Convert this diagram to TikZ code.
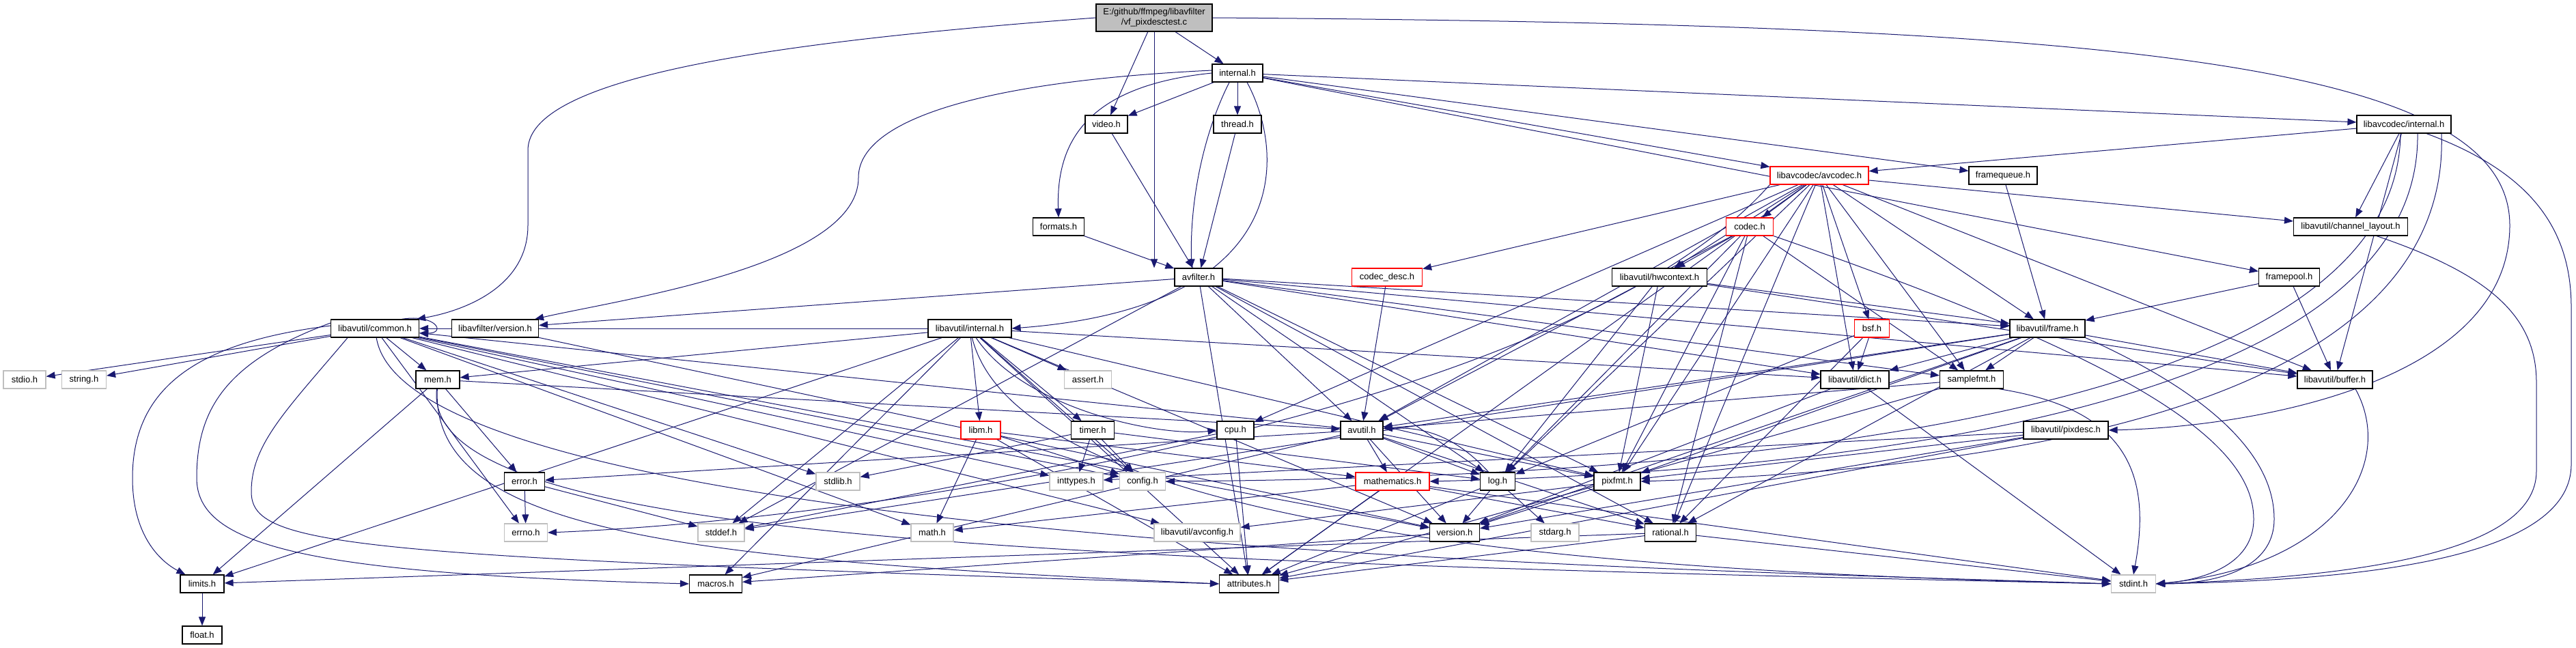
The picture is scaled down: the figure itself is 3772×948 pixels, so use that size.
\documentclass[tikz,border=0pt]{standalone}
\usepackage{fontspec}
\setmainfont{Liberation Sans}
\usetikzlibrary{arrows.meta,calc}
\definecolor{edgec}{RGB}{25,25,112}
\definecolor{grayb}{RGB}{191,191,191}
\definecolor{redb}{RGB}{255,0,0}
\pgfdeclarelayer{bg}
\pgfsetlayers{bg,main}
\newcommand\edg[2]{\draw[edge] (#1) -- (#2);}
\begin{document}
\begin{tikzpicture}[x=1pt,y=-1pt,
  nd/.style={draw=black, line width=1.2pt, fill=white, minimum height=26pt, inner sep=0pt, font=\fontsize{13}{15}\selectfont, text=black},
  sys/.style={nd, draw=grayb},
  trunc/.style={nd, draw=redb},
  edge/.style={draw=edgec, line width=1pt, -{Triangle[length=13pt,width=10pt]}},
]
\useasboundingbox (0,0) rectangle (3772,948);
% nodes
\node[nd,minimum width=170pt,minimum height=40pt,fill=grayb,align=center] (root) at (1690,26) {E:/github/ffmpeg/libavfilter\\/vf\_pixdesctest.c};
\node[nd,minimum width=74pt] (internal) at (1812,107) {internal.h};
\node[nd,minimum width=62pt] (video) at (1620,182) {video.h};
\node[nd,minimum width=70pt] (thread) at (1812,182) {thread.h};
\node[nd,minimum width=138pt] (lavcint) at (3520,182) {libavcodec/internal.h};
\node[trunc,minimum width=144pt] (avcodec) at (2664,257) {libavcodec/avcodec.h};
\node[nd,minimum width=100pt] (framequeue) at (2933,257) {framequeue.h};
\node[nd,minimum width=75pt] (formats) at (1550,332) {formats.h};
\node[trunc,minimum width=69pt] (codec) at (2562,332) {codec.h};
\node[nd,minimum width=167pt] (chlayout) at (3442,332) {libavutil/channel\_layout.h};
\node[nd,minimum width=70pt] (avfilter) at (1755,406) {avfilter.h};
\node[trunc,minimum width=103pt] (codecdesc) at (2031,406) {codec\_desc.h};
\node[nd,minimum width=139pt] (hwctx) at (2430,406) {libavutil/hwcontext.h};
\node[nd,minimum width=89pt] (framepool) at (3352,406) {framepool.h};
\node[nd,minimum width=129pt] (common) at (549,481) {libavutil/common.h};
\node[nd,minimum width=127pt] (lavfver) at (725,481) {libavfilter/version.h};
\node[nd,minimum width=122pt] (lavuint) at (1420,481) {libavutil/internal.h};
\node[trunc,minimum width=51pt] (bsf) at (2741,481) {bsf.h};
\node[nd,minimum width=110pt] (frame) at (2998,481) {libavutil/frame.h};
\node[sys,minimum width=62pt] (stdio) at (36,556) {stdio.h};
\node[sys,minimum width=65pt] (string) at (123,556) {string.h};
\node[nd,minimum width=64pt] (mem) at (641,556) {mem.h};
\node[sys,minimum width=69pt] (assert) at (1593,556) {assert.h};
\node[nd,minimum width=100pt] (dict) at (2716,556) {libavutil/dict.h};
\node[nd,minimum width=93pt] (samplefmt) at (2887,556) {samplefmt.h};
\node[nd,minimum width=110pt] (buffer) at (3419,556) {libavutil/buffer.h};
\node[trunc,minimum width=58pt] (libm) at (1436,630) {libm.h};
\node[nd,minimum width=63pt] (timer) at (1600,630) {timer.h};
\node[nd,minimum width=54pt] (cpu) at (1809,630) {cpu.h};
\node[nd,minimum width=62pt] (avutil) at (1994,630) {avutil.h};
\node[nd,minimum width=124pt] (pixdesc) at (3025,630) {libavutil/pixdesc.h};
\node[nd,minimum width=59pt] (error) at (768,705) {error.h};
\node[sys,minimum width=64pt] (stdlib) at (1227,705) {stdlib.h};
\node[sys,minimum width=78pt] (inttypes) at (1576,705) {inttypes.h};
\node[sys,minimum width=67pt] (config) at (1673,705) {config.h};
\node[trunc,minimum width=108pt] (mathem) at (2039,705) {mathematics.h};
\node[nd,minimum width=51pt] (log) at (2193,705) {log.h};
\node[nd,minimum width=68pt] (pixfmt) at (2368,705) {pixfmt.h};
\node[sys,minimum width=63pt] (errno) at (770,780) {errno.h};
\node[sys,minimum width=68pt] (stddef) at (1056,780) {stddef.h};
\node[sys,minimum width=62pt] (math) at (1365,780) {math.h};
\node[sys,minimum width=126pt] (avconfig) at (1753,780) {libavutil/avconfig.h};
\node[nd,minimum width=73pt] (version) at (2130,780) {version.h};
\node[sys,minimum width=70pt] (stdarg) at (2277,780) {stdarg.h};
\node[nd,minimum width=75pt] (rational) at (2446,780) {rational.h};
\node[nd,minimum width=64pt] (limits) at (296,855) {limits.h};
\node[nd,minimum width=77pt] (macros) at (1048,855) {macros.h};
\node[nd,minimum width=87pt] (attributes) at (1829,855) {attributes.h};
\node[sys,minimum width=65pt] (stdint) at (3124,855) {stdint.h};
\node[nd,minimum width=58pt] (float) at (296,930) {float.h};
% edges
\begin{pgfonlayer}{bg}
\fill[white] (0,0) rectangle (3772,948);
% root
\draw[edge] (root.west) .. controls (1150,60) and (773,110) .. (773,220) -- (773,330) .. controls (773,420) and (680,455) .. ([xshift=-4pt]common.north east);
\edg{root}{video}
\draw[edge] ([xshift=0pt]root.south) -- ([xshift=-65pt]avfilter.north);
\edg{root}{internal}
\draw[edge] (root.east) .. controls (3100,35) and (3675,90) .. (3675,330) .. controls (3675,560) and (3300,625) .. (pixdesc.east);
% internal
\edg{internal}{video}
\edg{internal}{thread}
\draw[edge] (internal.west) .. controls (1600,125) and (1546,200) .. (formats.north);
\draw[edge] ([xshift=-12pt]internal.south) .. controls (1760,200) and (1742,300) .. ([xshift=-10pt]avfilter.north);
\draw[edge] ([xshift=14pt]internal.south) .. controls (1885,230) and (1890,450) .. (lavuint.east);
\draw[edge] ([yshift=4pt]internal.west) .. controls (1420,120) and (1257,180) .. (1257,260) .. controls (1257,390) and (900,440) .. ([xshift=-6pt]lavfver.north east);
\edg{internal}{avcodec}
\edg{internal}{framequeue}
\edg{internal}{lavcint}
\edg{internal}{framepool}
\edg{video}{avfilter}
\edg{thread}{avfilter}
\edg{formats}{avfilter}
% libavcodec/internal.h
\edg{lavcint}{avcodec}
\edg{lavcint}{chlayout}
\edg{lavcint}{buffer}
\draw[edge] ([xshift=20pt]lavcint.south) .. controls (3545,600) and (2700,690) .. (mathem.east);
\draw[edge] ([xshift=55pt]lavcint.south) .. controls (3590,620) and (2850,690) .. (pixfmt.east);
\draw[edge] ([xshift=-5pt]lavcint.south) .. controls (3510,640) and (2400,700) .. (config.east);
\draw[edge] ([xshift=33pt]lavcint.south) .. controls (3700,250) and (3765,330) .. (3765,450) -- (3765,680) .. controls (3765,820) and (3450,850) .. (stdint.east);
% avcodec
\draw[edge] (avcodec.south west) .. controls (2300,600) and (1300,760) .. (errno.east);
\edg{avcodec}{samplefmt}
\edg{avcodec}{attributes}
\edg{avcodec}{avutil}
\edg{avcodec}{buffer}
\edg{avcodec}{cpu}
\edg{avcodec}{chlayout}
\edg{avcodec}{dict}
\edg{avcodec}{frame}
\edg{avcodec}{hwctx}
\edg{avcodec}{log}
\edg{avcodec}{pixfmt}
\edg{avcodec}{rational}
\edg{avcodec}{bsf}
\edg{avcodec}{codec}
\edg{avcodec}{codecdesc}
\edg{framequeue}{frame}
% codec
\draw[edge] (codec.south east) .. controls (3100,520) and (3300,640) .. (3300,760) .. controls (3300,830) and (3220,850) .. (stdint.east);
\edg{codec}{avutil}
\edg{codec}{hwctx}
\edg{codec}{log}
\edg{codec}{pixfmt}
\edg{codec}{rational}
\edg{codec}{samplefmt}
\draw[edge] ([xshift=38pt]chlayout.south) .. controls (3640,400) and (3714,460) .. (3714,560) -- (3714,690) .. controls (3714,810) and (3450,845) .. (stdint.east);
% avfilter
\edg{avfilter}{stddef}
\edg{avfilter}{attributes}
\edg{avfilter}{avutil}
\edg{avfilter}{buffer}
\edg{avfilter}{dict}
\edg{avfilter}{frame}
\edg{avfilter}{log}
\edg{avfilter}{samplefmt}
\edg{avfilter}{pixfmt}
\edg{avfilter}{rational}
\edg{avfilter}{lavfver}
\edg{codecdesc}{avutil}
\edg{hwctx}{buffer}
\edg{hwctx}{frame}
\edg{hwctx}{log}
\edg{hwctx}{pixfmt}
\edg{framepool}{buffer}
\edg{framepool}{frame}
% common
\edg{common}{errno}
\edg{common}{inttypes}
\draw[edge] ([yshift=4pt]common.west) .. controls (300,500) and (194,560) .. (194,700) .. controls (194,790) and (240,825) .. ([xshift=8pt]limits.north west);
\edg{common}{math}
\draw[edge] (common) .. controls (600,800) and (2500,835) .. (stdint.west);
\edg{common}{stdio}
\edg{common}{stdlib}
\edg{common}{string}
\draw[edge] ([xshift=-40pt]common.south) .. controls (420,600) and (368,650) .. (368,720) .. controls (368,800) and (500,815) .. (attributes.west);
\draw[edge] ([yshift=8pt]common.west) .. controls (330,530) and (288,600) .. (288,700) .. controls (288,800) and (450,840) .. (macros.west);
\edg{common}{version}
\edg{common}{avconfig}
\edg{common}{config}
\draw[edge] ([xshift=-26pt]common.north east) .. controls +(50,-8) and +(40,0) .. ([yshift=-7pt]common.east);
\edg{common}{mem}
\edg{lavfver}{version}
% libavutil/internal.h
\edg{lavuint}{limits}
\draw[edge] (lavuint) .. controls (1500,800) and (2500,840) .. (stdint.west);
\edg{lavuint}{stddef}
\edg{lavuint}{assert}
\edg{lavuint}{config}
\edg{lavuint}{attributes}
\edg{lavuint}{timer}
\draw[edge] (lavuint) .. controls (1500,600) and (1700,640) .. (cpu.west);
\edg{lavuint}{dict}
\edg{lavuint}{macros}
\edg{lavuint}{mem}
\edg{lavuint}{pixfmt}
\edg{lavuint}{version}
\edg{lavuint}{libm}
\edg{lavuint}{common}
% mem
\edg{mem}{limits}
\draw[edge] (mem) .. controls (615,790) and (1500,820) .. (stdint.west);
\draw[edge] (mem) .. controls (630,780) and (1000,820) .. (attributes.west);
\edg{mem}{error}
\edg{mem}{avutil}
% timer, cpu
\edg{timer}{stdlib}
\edg{timer}{inttypes}
\edg{timer}{config}
\edg{timer}{log}
\edg{cpu}{stddef}
\edg{cpu}{attributes}
% avutil
\edg{avutil}{common}
\edg{avutil}{error}
\edg{avutil}{rational}
\edg{avutil}{version}
\edg{avutil}{macros}
\edg{avutil}{mathem}
\edg{avutil}{log}
\edg{avutil}{pixfmt}
% libm
\edg{libm}{math}
\edg{libm}{config}
\edg{libm}{attributes}
\edg{libm}{mathem}
% pixdesc
\edg{pixdesc}{inttypes}
\edg{pixdesc}{attributes}
\edg{pixdesc}{pixfmt}
\edg{pixdesc}{version}
% error
\edg{error}{errno}
\edg{error}{stddef}
% mathematics
\edg{mathem}{stdint}
\edg{mathem}{math}
\edg{mathem}{attributes}
\edg{mathem}{rational}
% log
\edg{log}{stdarg}
\draw[edge] (log) to[bend right=25] (avutil);
\edg{log}{attributes}
\edg{log}{version}
\edg{pixfmt}{avconfig}
\edg{pixfmt}{version}
\edg{rational}{stdint}
\edg{rational}{limits}
\edg{rational}{attributes}
\edg{version}{macros}
\edg{limits}{float}
\edg{dict}{stdint}
\edg{dict}{version}
% frame
\edg{frame}{stddef}
\draw[edge] (frame.south east) .. controls (3200,560) and (3330,650) .. (3330,760) .. controls (3330,840) and (3230,855) .. (stdint.east);
\edg{frame}{avutil}
\edg{frame}{buffer}
\edg{frame}{dict}
\edg{frame}{rational}
\edg{frame}{samplefmt}
\edg{frame}{pixfmt}
\edg{frame}{version}
% samplefmt
\draw[edge] ([xshift=40pt]samplefmt.south) .. controls (3120,600) and (3150,700) .. (stdint.north);
\edg{samplefmt}{avutil}
\edg{samplefmt}{attributes}
\draw[edge] ([xshift=30pt]buffer.south) .. controls (3510,680) and (3420,830) .. (stdint.east);
% bsf
\edg{bsf}{dict}
\edg{bsf}{log}
\edg{bsf}{rational}
\end{pgfonlayer}
\end{tikzpicture}
\end{document}
